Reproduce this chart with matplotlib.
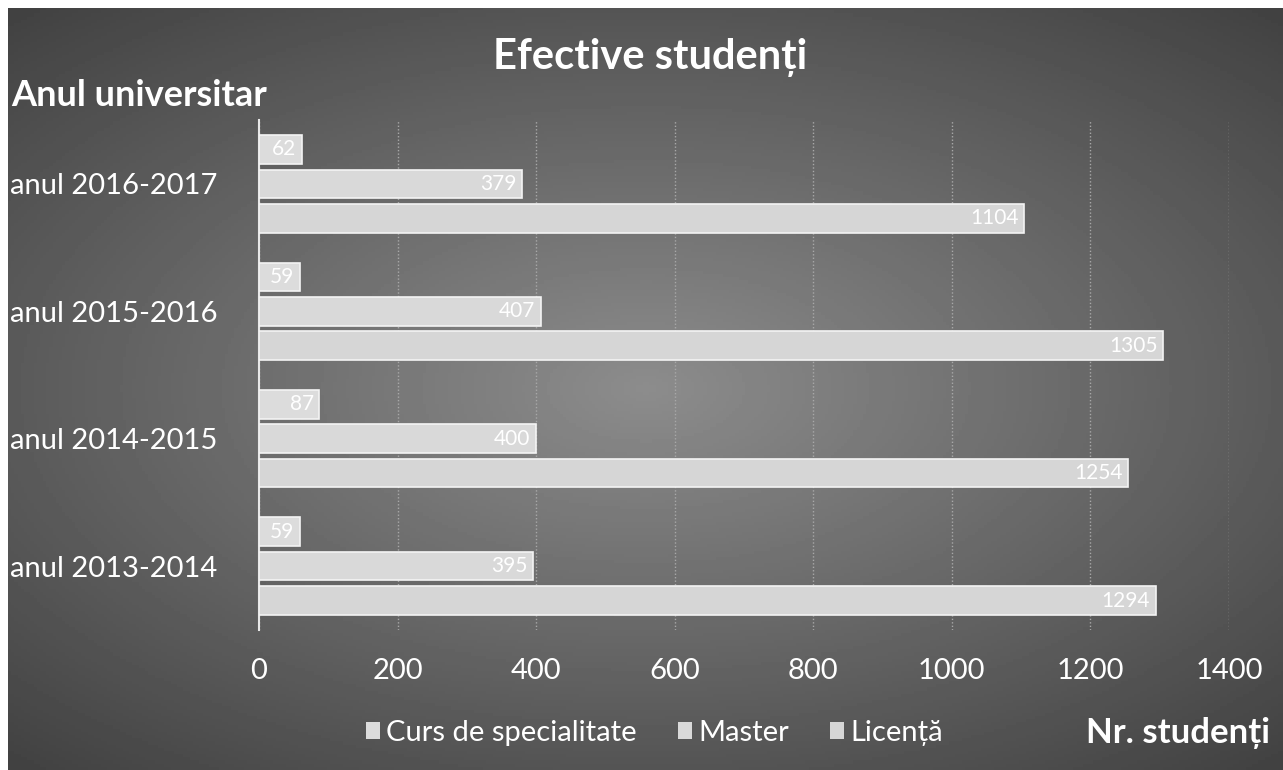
import numpy as np
from matplotlib import pyplot as plt
from matplotlib.patches import Patch

plt.rcParams['font.family'] = ['Lato', 'Open Sans', 'DejaVu Sans']

years = ['anul 2013-2014', 'anul 2014-2015', 'anul 2015-2016', 'anul 2016-2017']
curs = [59, 87, 59, 62]
master = [395, 400, 407, 379]
licenta = [1294, 1254, 1305, 1104]
series_names = ['Curs de specialitate', 'Master', 'Licență']
x_ticks = [0, 200, 400, 600, 800, 1000, 1200, 1400]

fig = plt.figure(figsize=(12.83, 7.7), dpi=100)
fig.patch.set_facecolor('white')

# background panel with a radial gradient (lighter in the middle)
bg = fig.add_axes([0.006, 0, 0.994, 0.99])
gx, gy = np.meshgrid(np.linspace(-1, 1, 400), np.linspace(-1, 1, 240))
r = np.sqrt((gx * 0.9) ** 2 + (gy * 1.0) ** 2)
shade = 0.55 - 0.22 * np.clip(r, 0, 1.4)
bg.imshow(shade, cmap='gray', vmin=0, vmax=1, aspect='auto',
          extent=[0, 1, 0, 1], origin='lower')
bg.set_axis_off()

ax = fig.add_axes([0.2019, 0.182, 0.756, 0.662])
ax.set_facecolor('none')

y = np.arange(len(years))
h = 0.225
step = 0.27
bar_color = '#d9d9d9'
ax.barh(y + step, curs, height=h, color='#dcdcdc', edgecolor='#f4f4f4', linewidth=1.2, zorder=3)
ax.barh(y, master, height=h, color=bar_color, edgecolor='#f4f4f4', linewidth=1.2, zorder=3)
ax.barh(y - step, licenta, height=h, color='#d6d6d6', edgecolor='#f4f4f4', linewidth=1.2, zorder=3)

for vals, off in ((curs, step), (master, 0), (licenta, -step)):
    for i, v in enumerate(vals):
        ax.text(v - 8, y[i] + off, str(v), ha='right', va='center',
                color='white', fontsize=15, zorder=4)

ax.set_xlim(0, 1400)
ax.set_ylim(-0.5, 3.5)
ax.set_xticks(x_ticks)
ax.set_xticklabels([str(t) for t in x_ticks], color='white', fontsize=21)
ax.set_yticks(y)
ax.set_yticklabels(years, color='white', fontsize=21)
ax.tick_params(axis='both', length=0)
ax.tick_params(axis='y', pad=30)
ax.tick_params(axis='x', pad=20)
ax.grid(axis='x', color='#a8a8a8', linewidth=1, linestyle=(0, (1, 1.5)), zorder=1)
for side in ('top', 'right', 'bottom'):
    ax.spines[side].set_visible(False)
ax.spines['left'].set_color('#e8e8e8')
ax.spines['left'].set_linewidth(1.5)

fig.text(0.507, 0.925, 'Efective studenți', ha='center', va='center',
         color='white', fontsize=30, fontweight='bold')
fig.text(0.009, 0.876, 'Anul universitar', ha='left', va='center',
         color='white', fontsize=26, fontweight='bold')
fig.text(0.99, 0.048, 'Nr. studenți', ha='right', va='center',
         color='white', fontsize=25, fontweight='bold')

handles = [Patch(facecolor=c, edgecolor='none') for c in ('#dcdcdc', bar_color, '#d6d6d6')]
leg = fig.legend(handles, series_names, loc='center', bbox_to_anchor=(0.51, 0.048),
                 ncol=3, frameon=False, fontsize=21, handlelength=0.5,
                 handleheight=0.5, handletextpad=0.2, columnspacing=1.4)
for t in leg.get_texts():
    t.set_color('white')

fig.savefig('out.png', dpi=100)
